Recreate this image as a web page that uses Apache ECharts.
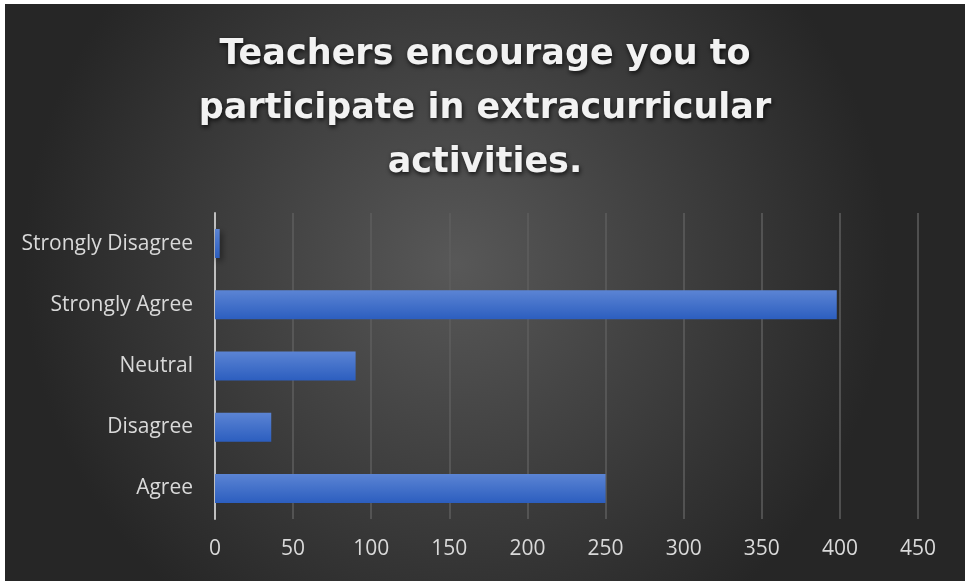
<!DOCTYPE html>
<html>
<head>
<meta charset="utf-8">
<script src="https://cdn.jsdelivr.net/npm/echarts@6/dist/echarts.min.js"></script>
<style>
  html, body { margin: 0; padding: 0; background: #ffffff; }
  #chart { position: absolute; left: 5px; top: 4px; width: 960px; height: 577px; }
</style>
</head>
<body>
<div id="chart"></div>
<script>
// categories bottom -> top
const categories = ['Agree', 'Disagree', 'Neutral', 'Strongly Agree', 'Strongly Disagree'];
const responses = [250, 36, 90, 398, 3];
const xTicks = { min: 0, max: 450, interval: 50 };
const titleText = 'Teachers encourage you to\nparticipate in extracurricular\nactivities.';

const chart = echarts.init(document.getElementById('chart'));

chart.setOption({
    backgroundColor: {
        type: 'radial',
        x: 0.47, y: 0.45, r: 0.75,
        colorStops: [
            { offset: 0, color: '#585858' },
            { offset: 1, color: '#262626' }
        ]
    },
    title: {
        text: titleText,
        left: 'center',
        top: 19,
        textStyle: {
            color: '#f2f2f2',
            fontFamily: 'DejaVu Sans',
            fontWeight: 'bold',
            fontSize: 35,
            lineHeight: 54,
            textShadowColor: 'rgba(0,0,0,0.8)',
            textShadowBlur: 5,
            textShadowOffsetX: 1,
            textShadowOffsetY: 2
        }
    },
    grid: {
        left: 210,
        right: 47,
        top: 209,
        bottom: 62
    },
    xAxis: {
        type: 'value',
        min: xTicks.min,
        max: xTicks.max,
        interval: xTicks.interval,
        axisLine: { show: false },
        axisTick: { show: false },
        axisLabel: {
            color: '#d9d9d9',
            fontFamily: 'Open Sans',
            fontSize: 21,
            margin: 20
        },
        splitLine: {
            lineStyle: { color: '#5e5e5e', width: 1.5 }
        }
    },
    yAxis: {
        type: 'category',
        data: categories,
        axisLine: {
            show: true,
            lineStyle: { color: '#bfbfbf', width: 2 }
        },
        axisTick: { show: false },
        axisLabel: {
            color: '#d9d9d9',
            fontFamily: 'Open Sans',
            fontSize: 21,
            margin: 22
        }
    },
    series: [{
        type: 'bar',
        data: responses,
        barWidth: 29,
        itemStyle: {
            color: {
                type: 'linear',
                x: 0, y: 0, x2: 0, y2: 1,
                colorStops: [
                    { offset: 0, color: '#5b84d4' },
                    { offset: 1, color: '#2c5ebf' }
                ]
            },
            shadowColor: 'rgba(0,0,0,0.55)',
            shadowBlur: 6,
            shadowOffsetX: 2,
            shadowOffsetY: 3
        }
    }]
});
</script>
</body>
</html>
